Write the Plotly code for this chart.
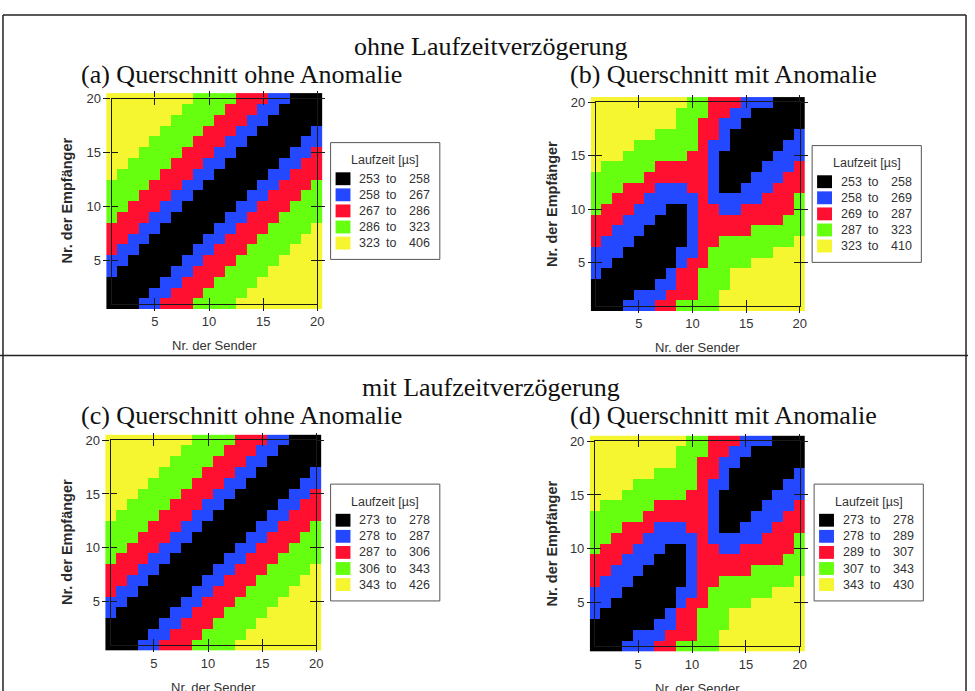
import plotly.graph_objects as go

W, H = 975, 691

# ---------------- data ----------------
SENDER = list(range(1, 21))       # Nr. der Sender (x)
EMPFAENGER = list(range(1, 21))   # Nr. der Empfänger (y)

# Travel-time class per cell.
# Row 0 = Empfänger 20 (top), column 0 = Sender 1.  0=black ... 4=yellow
GRID_OHNE = [
    "44444444333322211000",
    "44444443333222110000",
    "44444433332221100000",
    "44444333322211000001",
    "44443333222110000011",
    "44433332221100000112",
    "44333322211000001122",
    "43333222110000011222",
    "33332221100000112223",
    "33322211000001122233",
    "33222110000011222333",
    "32221100000112223333",
    "22211000001122233334",
    "22110000011222333344",
    "21100000112223333444",
    "11000001122233334444",
    "10000011222333344444",
    "00000112223333444444",
    "00001122233334444444",
    "00011222333344444444",
]

GRID_MIT = [
    "44444444433222111000",
    "44444444333221100000",
    "44444444332211000000",
    "44444433332210000001",
    "44443333332110000011",
    "44433333322100000111",
    "43333322222100001112",
    "33333222222100011122",
    "33322211122100111222",
    "33222111112111112223",
    "32221110012211222223",
    "22211100012222222233",
    "22111000012222233333",
    "21110000012233333334",
    "11100000112333333444",
    "11000000122333344444",
    "10000001223334444444",
    "00000011223334444444",
    "00001112223344444444",
    "00011122333344444444",
]

BINS_A = [253, 258, 267, 286, 323, 406]
BINS_B = [253, 258, 269, 287, 323, 410]
BINS_C = [273, 278, 287, 306, 343, 426]
BINS_D = [273, 278, 289, 307, 343, 430]

TICKS = [5, 10, 15, 20]

CLASS_COLORS = ["#000000", "#2448ff", "#ff1030", "#66ff10", "#f5f530"]

HEADERS = ["ohne Laufzeitverzögerung", "mit Laufzeitverzögerung"]
TITLES = ["(a) Querschnitt ohne Anomalie", "(b) Querschnitt mit Anomalie",
          "(c) Querschnitt ohne Anomalie", "(d) Querschnitt mit Anomalie"]

# ---------------- layout helpers ----------------
def fx(x):
    return x / W

def fy(y):
    return 1 - y / H

PANELS = [
    dict(grid=GRID_OHNE, bins=BINS_A, box=(107, 325, 87, 305), title=TITLES[0], tpos=(80, 68), leg=(333, 137)),
    dict(grid=GRID_MIT, bins=BINS_B, box=(595, 811, 91, 307), title=TITLES[1], tpos=(572, 68), leg=(818, 140)),
    dict(grid=GRID_OHNE, bins=BINS_C, box=(106, 324, 432, 650), title=TITLES[2], tpos=(80, 413), leg=(333, 482)),
    dict(grid=GRID_MIT, bins=BINS_D, box=(594, 811, 433, 651), title=TITLES[3], tpos=(572, 413), leg=(820, 482)),
]

colorscale = []
n = len(CLASS_COLORS)
for i, c in enumerate(CLASS_COLORS):
    colorscale += [[i / n, c], [(i + 1) / n, c]]

fig = go.Figure()
layout = dict(
    width=W, height=H,
    margin=dict(l=0, r=0, t=0, b=0),
    paper_bgcolor="white", plot_bgcolor="rgba(0,0,0,0)",
    showlegend=False,
)
shapes = []
annotations = []

SANS = "Liberation Sans, Arial, sans-serif"
SERIF = "Liberation Serif, Times New Roman, serif"
TXT = "#333333"
AXC = "#1a1a1a"

for p_i, p in enumerate(PANELS):
    left, right, top, bottom = p["box"]
    cw = (right - left) / 20.0
    ch = (bottom - top) / 20.0
    k = 3 * p_i + 1
    k2, k3 = k + 1, k + 2
    hx = "x" if k == 1 else f"x{k}"
    hy = "y" if k == 1 else f"y{k}"
    z = [[int(c_) for c_ in row] for row in reversed(p["grid"])]
    bins = p["bins"]
    labels = [f"{bins[i]} to {bins[i+1]}" for i in range(5)]
    text = [[labels[v] for v in row] for row in z]
    fig.add_trace(go.Heatmap(
        x=SENDER, y=EMPFAENGER, z=z, text=text,
        colorscale=colorscale, zmin=-0.5, zmax=4.5, showscale=False,
        hovertemplate="Sender %{x}<br>Empfänger %{y}<br>%{text} µs<extra></extra>",
        xaxis=hx, yaxis=hy,
    ))
    # empty helper traces so the frame/tick subplots exist (no marks)
    for kk in (k2, k3):
        fig.add_trace(go.Scatter(x=[], y=[], xaxis=f"x{kk}", yaxis=f"y{kk}",
                                 showlegend=False, hoverinfo="skip"))
    sfx = "" if k == 1 else str(k)
    layout["xaxis" + sfx] = dict(domain=[fx(left), fx(right)], range=[0.5, 20.5],
                                 visible=False, anchor=hy, fixedrange=True)
    layout["yaxis" + sfx] = dict(domain=[fy(bottom), fy(top)], range=[0.5, 20.5],
                                 visible=False, anchor=hx, fixedrange=True)
    # frame axes (through cell centres 1..20)
    fdom_x = [fx(left + cw / 2), fx(right - cw / 2)]
    fdom_y = [fy(bottom - ch / 2), fy(top + ch / 2)]
    common = dict(range=[1, 20], autorange=False, showgrid=False, zeroline=False,
                  fixedrange=True, tickmode="array", tickvals=TICKS)
    layout[f"xaxis{k2}"] = dict(domain=fdom_x, anchor=f"y{k2}", showline=True, mirror="ticks",
                                linecolor=AXC, linewidth=1.3, ticks="outside", ticklen=6,
                                tickcolor=AXC, tickwidth=1.2,
                                tickfont=dict(family=SANS, size=13, color=TXT), **common)
    layout[f"yaxis{k2}"] = dict(domain=fdom_y, anchor=f"x{k2}", showline=True, mirror="ticks",
                                linecolor=AXC, linewidth=1.3, ticks="outside", ticklen=7,
                                tickcolor=AXC, tickwidth=1.2,
                                tickfont=dict(family=SANS, size=13, color=TXT), **common)
    layout[f"xaxis{k3}"] = dict(domain=fdom_x, anchor=f"y{k3}", showline=False, mirror="ticks",
                                ticks="inside", ticklen=6, tickcolor=AXC, tickwidth=1.2,
                                showticklabels=False, **common)
    layout[f"yaxis{k3}"] = dict(domain=fdom_y, anchor=f"x{k3}", showline=False, mirror="ticks",
                                ticks="inside", ticklen=6, tickcolor=AXC, tickwidth=1.2,
                                showticklabels=False, **common)

    # axis titles
    annotations.append(dict(text="Nr. der Sender", x=fx((left + right) / 2), y=fy(bottom + 37),
                            xref="paper", yref="paper", showarrow=False,
                            font=dict(family=SANS, size=13, color=TXT),
                            xanchor="center", yanchor="middle"))
    annotations.append(dict(text="<b>Nr. der Empfänger</b>", x=fx(left - 39), y=fy((top + bottom) / 2),
                            xref="paper", yref="paper", showarrow=False, textangle=-90,
                            font=dict(family=SANS, size=14.5, color="#2a2a2a"),
                            xanchor="center", yanchor="middle"))
    # panel title
    tx, ty = p["tpos"]
    annotations.append(dict(text=p["title"], x=fx(tx), y=fy(ty), xref="paper", yref="paper",
                            showarrow=False, xanchor="left", yanchor="middle",
                            font=dict(family=SERIF, size=26, color="#111111")))
    # legend box
    ox, oy = p["leg"]
    shapes.append(dict(type="rect", xref="paper", yref="paper",
                       x0=fx(ox), x1=fx(ox + 110), y0=fy(oy), y1=fy(oy + 118),
                       line=dict(color="#555555", width=1), fillcolor="white"))
    annotations.append(dict(text="Laufzeit [µs]", x=fx(ox + 55), y=fy(oy + 18), xref="paper",
                            yref="paper", showarrow=False, xanchor="center", yanchor="middle",
                            font=dict(family=SANS, size=12.5, color=TXT)))
    for i in range(5):
        cy = oy + 36.5 + 16.25 * i
        shapes.append(dict(type="rect", xref="paper", yref="paper",
                           x0=fx(ox + 5), x1=fx(ox + 20), y0=fy(cy + 6.5), y1=fy(cy - 6.5),
                           line=dict(width=0), fillcolor=CLASS_COLORS[i]))
        annotations.append(dict(text=str(bins[i]), x=fx(ox + 52), y=fy(cy), xref="paper",
                                yref="paper", showarrow=False, xanchor="right", yanchor="middle",
                                font=dict(family=SANS, size=12.5, color=TXT)))
        annotations.append(dict(text="to", x=fx(ox + 61), y=fy(cy), xref="paper",
                                yref="paper", showarrow=False, xanchor="center", yanchor="middle",
                                font=dict(family=SANS, size=12.5, color=TXT)))
        annotations.append(dict(text=str(bins[i + 1]), x=fx(ox + 77), y=fy(cy), xref="paper",
                                yref="paper", showarrow=False, xanchor="left", yanchor="middle",
                                font=dict(family=SANS, size=12.5, color=TXT)))

# section headers
for hdr, hy_ in zip(HEADERS, [40, 384]):
    annotations.append(dict(text=hdr, x=fx(495), y=fy(hy_), xref="paper", yref="paper",
                            showarrow=False, xanchor="center", yanchor="middle",
                            font=dict(family=SERIF, size=26, color="#111111")))

# outer frame lines
frame = dict(color="#222222", width=1.5)
shapes += [
    dict(type="line", xref="paper", yref="paper", x0=fx(3), x1=fx(973), y0=fy(8), y1=fy(8), line=frame),
    dict(type="line", xref="paper", yref="paper", x0=fx(3), x1=fx(3), y0=fy(8), y1=fy(691), line=frame),
    dict(type="line", xref="paper", yref="paper", x0=fx(973), x1=fx(973), y0=fy(8), y1=fy(691), line=frame),
    dict(type="line", xref="paper", yref="paper", x0=0, x1=1, y0=fy(352), y1=fy(352), line=frame),
]

layout["shapes"] = shapes
layout["annotations"] = annotations
fig.update_layout(**layout)
fig.write_html("out.html", config={"displayModeBar": False},
               post_script="document.body.style.margin='0px';document.body.style.overflow='hidden';")
